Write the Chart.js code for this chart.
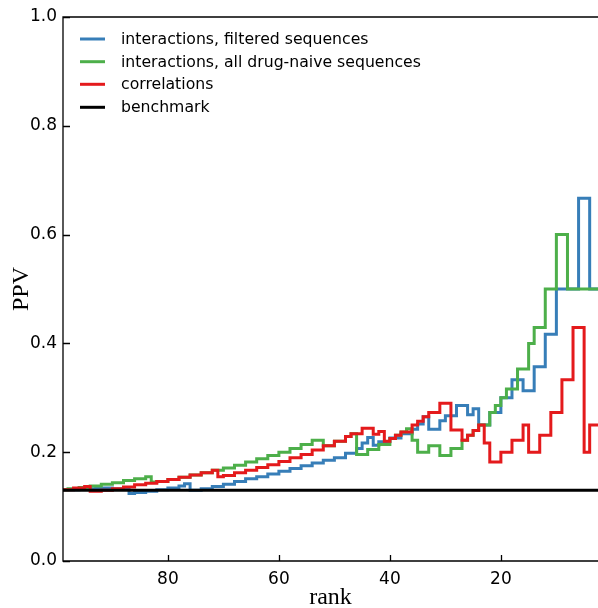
<!DOCTYPE html>
<html>
<head>
<meta charset="utf-8">
<script src="https://cdn.jsdelivr.net/npm/chart.js@4.4.1/dist/chart.umd.min.js"></script>
<style>
  html, body { margin: 0; padding: 0; background: #fff; }
  #wrap { width: 598px; height: 608px; }
</style>
</head>
<body>
<div id="wrap"><canvas id="ppvChart" width="598" height="608"></canvas></div>
<script>
// axis ticks
const xTicks = [80, 60, 40, 20];
const yTicks = [0, 0.2, 0.4, 0.6, 0.8, 1.0];

const seriesNames = [
  'interactions, filtered sequences',
  'interactions, all drug-naive sequences',
  'correlations',
  'benchmark'
];
const seriesColors = ['#377eb8', '#4daf4a', '#e41a1c', '#000000'];

// each ppv value holds from its rank down to the next rank in the list
const filteredRank = [99, 96, 93, 90, 87, 86, 84, 82, 80, 78, 77, 76, 74, 72, 70, 68, 66, 64, 62, 60,
  58, 56, 54, 52, 50, 48, 46, 45, 44, 43, 42, 40, 38, 36, 35, 34, 33, 31, 30, 28,
  26, 25, 24, 22, 20, 18, 16, 14, 12, 10, 6, 4, 2];
const filteredPpv = [0.131, 0.133, 0.134, 0.133, 0.124, 0.126, 0.128, 0.131, 0.134, 0.138, 0.142, 0.130, 0.133, 0.137, 0.141, 0.146, 0.151, 0.155, 0.160, 0.165,
  0.170, 0.175, 0.180, 0.185, 0.190, 0.198, 0.207, 0.217, 0.227, 0.213, 0.219, 0.226, 0.234, 0.242, 0.252, 0.265, 0.242, 0.258, 0.267, 0.286,
  0.269, 0.280, 0.250, 0.273, 0.300, 0.333, 0.313, 0.357, 0.417, 0.500, 0.667, 0.500, 0.500];

const naiveRank = [99, 98, 96, 94, 92, 90, 88, 86, 84, 83, 82, 80, 78, 76, 74, 72, 70, 68, 66, 64,
  62, 60, 58, 56, 54, 52, 50, 48, 47, 46, 44, 42, 40, 39, 38, 37, 36, 35, 33, 31, 29,
  27, 26, 25, 24, 22, 21, 20, 19, 17, 15, 14, 12, 10, 8, 2];
const naivePpv = [0.131, 0.133, 0.135, 0.138, 0.141, 0.144, 0.148, 0.151, 0.155, 0.145, 0.146, 0.150, 0.154, 0.158, 0.162, 0.167, 0.171, 0.176, 0.182, 0.188,
  0.194, 0.200, 0.207, 0.214, 0.222, 0.212, 0.220, 0.229, 0.234, 0.196, 0.205, 0.214, 0.225, 0.231, 0.237, 0.243, 0.222, 0.200, 0.212, 0.194, 0.207,
  0.222, 0.231, 0.240, 0.250, 0.273, 0.286, 0.300, 0.316, 0.353, 0.400, 0.429, 0.500, 0.600, 0.500, 0.500];

const corrRank = [99, 97, 95, 94, 92, 90, 88, 86, 84, 82, 80, 78, 76, 74, 72, 71, 70, 68, 66, 64,
  62, 60, 58, 56, 54, 52, 50, 48, 47, 45, 43, 42, 41, 40, 39, 38, 36, 35, 34, 33,
  31, 29, 27, 26, 25, 24, 23, 22, 20, 18, 16, 15, 13, 11, 9, 7, 5, 4, 2];
const corrPpv = [0.131, 0.134, 0.137, 0.128, 0.130, 0.133, 0.136, 0.140, 0.143, 0.146, 0.150, 0.154, 0.158, 0.162, 0.167, 0.155, 0.157, 0.162, 0.167, 0.172,
  0.177, 0.183, 0.190, 0.196, 0.204, 0.212, 0.220, 0.229, 0.234, 0.244, 0.233, 0.238, 0.220, 0.225, 0.231, 0.237, 0.250, 0.257, 0.265, 0.273,
  0.290, 0.241, 0.222, 0.231, 0.240, 0.250, 0.217, 0.182, 0.200, 0.222, 0.250, 0.200, 0.231, 0.273, 0.333, 0.429, 0.200, 0.250, 0.250];

const benchmarkRank = [99, 2];
const benchmarkPpv = [0.13, 0.13];

const toPoints = (ranks, vals) => ranks.map((r, i) => ({ x: r, y: vals[i] }));

const series = [
  [filteredRank, filteredPpv],
  [naiveRank, naivePpv],
  [corrRank, corrPpv],
  [benchmarkRank, benchmarkPpv]
];

// spines, inward ticks and the legend drawn straight on the canvas
const framePlugin = {
  id: 'frame',
  afterDraw(chart) {
    const { ctx, chartArea: a, scales: { x, y } } = chart;
    ctx.save();
    ctx.strokeStyle = '#000';
    ctx.lineWidth = 1.3;
    ctx.beginPath();
    ctx.moveTo(a.right + 2, a.top);
    ctx.lineTo(a.left, a.top);
    ctx.lineTo(a.left, a.bottom);
    ctx.lineTo(a.right + 2, a.bottom);
    yTicks.forEach(v => {
      const py = Math.round(y.getPixelForValue(v)) + 0.5;
      ctx.moveTo(a.left, py);
      ctx.lineTo(a.left + 7, py);
    });
    xTicks.forEach(v => {
      const px = Math.round(x.getPixelForValue(v)) + 0.5;
      ctx.moveTo(px, a.bottom);
      ctx.lineTo(px, a.bottom - 6);
    });
    ctx.stroke();

    ctx.font = '15.7px "DejaVu Sans"';
    ctx.textBaseline = 'middle';
    ctx.fillStyle = '#000';
    const rowY = [39, 61.7, 84.3, 107.3];
    seriesNames.forEach((name, i) => {
      ctx.strokeStyle = seriesColors[i];
      ctx.lineWidth = 3;
      ctx.beginPath();
      ctx.moveTo(80, rowY[i]);
      ctx.lineTo(105, rowY[i]);
      ctx.stroke();
      ctx.fillText(name, 121, rowY[i] + 1);
    });
    ctx.restore();
  }
};

new Chart(document.getElementById('ppvChart'), {
  type: 'line',
  data: {
    datasets: series.map(([r, v], i) => ({
      label: seriesNames[i],
      data: toPoints(r, v),
      borderColor: seriesColors[i],
      borderWidth: 3,
      stepped: true,
      pointRadius: 0,
      fill: false,
      order: 3 - i
    }))
  },
  options: {
    responsive: false,
    devicePixelRatio: 1,
    animation: false,
    parsing: false,
    layout: { padding: { top: 17, right: 0, left: 0, bottom: 0 } },
    elements: { line: { borderJoinStyle: 'miter', borderCapStyle: 'butt', tension: 0 } },
    plugins: { legend: { display: false }, tooltip: { enabled: false } },
    scales: {
      x: {
        type: 'linear',
        reverse: true,
        min: 2.5,
        max: 98.9,
        grid: { display: false, drawTicks: false },
        border: { display: false },
        afterBuildTicks: s => { s.ticks = xTicks.map(v => ({ value: v })); },
        afterFit: s => { s.height = 47; },
        ticks: {
          padding: 8,
          color: '#000',
          font: { family: 'DejaVu Sans', size: 17 },
          maxRotation: 0,
          callback: v => String(v)
        },
        title: {
          display: true,
          text: 'rank',
          color: '#000',
          font: { family: 'Liberation Serif', size: 24, lineHeight: 0.84 },
          padding: { top: 0, bottom: 0 }
        }
      },
      y: {
        min: 0,
        max: 1,
        grid: { display: false, drawTicks: false },
        border: { display: false },
        afterBuildTicks: s => { s.ticks = yTicks.map(v => ({ value: v })); },
        afterFit: s => { s.width = 63; },
        ticks: {
          padding: 6,
          color: '#000',
          font: { family: 'DejaVu Sans', size: 17 },
          callback: v => v.toFixed(1)
        },
        title: {
          display: true,
          text: 'PPV',
          color: '#000',
          font: { family: 'Liberation Serif', size: 24, lineHeight: 0.84 },
          padding: { top: 12, bottom: 0 }
        }
      }
    }
  },
  plugins: [framePlugin]
});
</script>
</body>
</html>
